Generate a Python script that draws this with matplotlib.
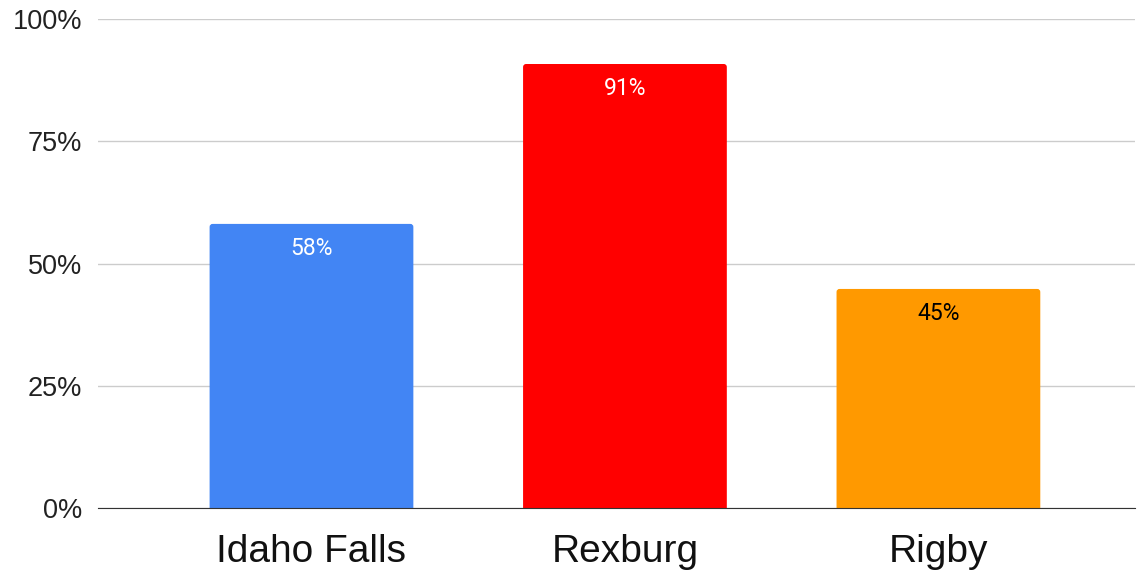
import matplotlib.pyplot as plt
from matplotlib.patches import FancyBboxPatch

cities = ['Idaho Falls', 'Rexburg', 'Rigby']
shares = [58.1, 90.8, 44.8]
labels = ['58%', '91%', '45%']
colors = ['#4285F4', '#FF0000', '#FF9900']
label_colors = ['white', 'white', 'black']
yticks = [0, 25, 50, 75, 100]

plt.rcParams['font.family'] = ['Liberation Sans', 'DejaVu Sans']

fig = plt.figure(figsize=(11.37, 5.76), dpi=100)
ax = fig.add_axes([0.0862, 0.118, 0.912, 0.849])
ax.set_ylim(0, 100)
ax.set_xlim(-0.681, 2.627)

x = range(len(cities))
bars = ax.bar(x, shares, width=0.65, color=colors, zorder=2)

# swap plain bars for ones with slightly rounded tops
r_x = 3 / 313.5
r_y = 3 / 4.89
for b in bars:
    b.set_visible(False)
    ax.add_patch(FancyBboxPatch((b.get_x(), -2), b.get_width(), b.get_height() + 2,
                                boxstyle=f'round,pad=0,rounding_size={r_x}',
                                mutation_aspect=r_y / r_x,
                                facecolor=b.get_facecolor(), edgecolor='none', zorder=2))

for b, lab, c in zip(bars, labels, label_colors):
    ax.text(b.get_x() + b.get_width() / 2, b.get_height() - 5, lab,
            ha='center', va='center', fontsize=16.5, color=c, family='Roboto', zorder=3)

ax.set_yticks(yticks)
ax.set_yticklabels([f'{t}%' for t in yticks], fontsize=19.5, color='#222222')
ax.set_xticks(list(x))
ax.set_xticklabels(cities, fontsize=28, color='#111111')
ax.tick_params(length=0)
ax.tick_params(axis='y', pad=11.5)
ax.tick_params(axis='x', pad=19)
ax.grid(axis='y', color='#cccccc', linewidth=1, zorder=0)
for s in ['top', 'right', 'left']:
    ax.spines[s].set_visible(False)
ax.spines['bottom'].set_color('#333333')
ax.spines['bottom'].set_zorder(4)

fig.savefig('out.png')
